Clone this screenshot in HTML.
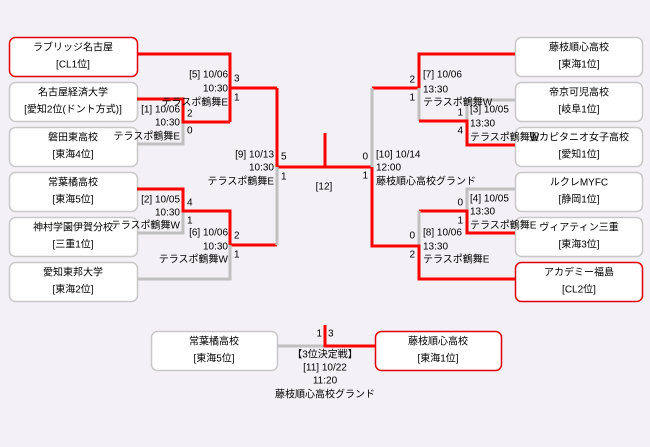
<!DOCTYPE html>
<html><head><meta charset="utf-8"><style>
html,body{margin:0;padding:0;background:#f3f1f5;}
svg{display:block}
text{font-family:"Liberation Sans","Noto Sans CJK JP",sans-serif;font-size:10px;fill:#000;dominant-baseline:central}
.b{fill:#fff;stroke:#c8c8c8;stroke-width:1.5}
.r{fill:#fff;stroke:#e00000;stroke-width:1.5}
.R{stroke:#f00;stroke-width:3;fill:none}
.G{stroke:#c0c0c0;stroke-width:3;fill:none}
.m{text-anchor:middle}
.e{text-anchor:end}
</style></head><body>
<svg width="650" height="447" viewBox="0 0 650 447">
<!-- left boxes -->
<rect class="r" x="9.5" y="37.5" width="128" height="39" rx="6"/>
<rect class="b" x="9.5" y="82.5" width="128" height="39" rx="6"/>
<rect class="b" x="9.5" y="127.5" width="128" height="39" rx="6"/>
<rect class="b" x="9.5" y="172.5" width="128" height="39" rx="6"/>
<rect class="b" x="9.5" y="217.5" width="128" height="39" rx="6"/>
<rect class="b" x="9.5" y="262.5" width="128" height="39" rx="6"/>
<!-- right boxes -->
<rect class="b" x="515.5" y="37.5" width="127" height="39" rx="6"/>
<rect class="b" x="515.5" y="82.5" width="127" height="39" rx="6"/>
<rect class="b" x="515.5" y="127.5" width="127" height="39" rx="6"/>
<rect class="b" x="515.5" y="172.5" width="127" height="39" rx="6"/>
<rect class="b" x="515.5" y="217.5" width="127" height="39" rx="6"/>
<rect class="r" x="515.5" y="262.5" width="127" height="39" rx="6"/>
<!-- bottom boxes -->
<rect class="b" x="151.5" y="331.5" width="126" height="39" rx="6"/>
<rect class="r" x="375.5" y="331.5" width="126" height="39" rx="6"/>

<!-- left lines -->
<path class="G" d="M137,144 H183 V122"/>
<path class="R" d="M137,99 H183 V122 H230"/>
<path class="R" d="M137,54 H230 V88 H277"/>
<path class="R" d="M230,122 V88"/>
<path class="G" d="M137,233 H183 V211"/>
<path class="R" d="M137,189 H183 V211 H230 V245 H277"/>
<path class="G" d="M137,279 H230 V245"/>
<path class="R" d="M277,88 V167 H372"/>
<path class="G" d="M277,245 V167"/>
<path class="R" d="M325,167 V133"/>
<!-- right lines -->
<path class="R" d="M515,54 H419 V88 H372"/>
<path class="G" d="M372,88 V167"/>
<path class="G" d="M419,88 V121"/>
<path class="G" d="M515,100 H467 V121"/>
<path class="R" d="M515,145 H467 V121 H419"/>
<path class="G" d="M515,189 H467 V211"/>
<path class="R" d="M515,233 H467 V211 H419"/>
<path class="G" d="M419,211 V246"/>
<path class="R" d="M515,279 H419 V246 H372 V167"/>
<!-- 3rd place -->
<path class="G" d="M277,346 H325"/>
<path class="R" d="M325,325 V346 H375"/>

<!-- box text -->
<g class="m">
<text class="m" x="73" y="48">ラブリッジ名古屋</text><text class="m" x="73" y="65">[CL1位]</text>
<text class="m" x="73" y="93">名古屋経済大学</text><text class="m" x="73" y="110">[愛知2位(ドント方式)]</text>
<text class="m" x="73" y="138">磐田東高校</text><text class="m" x="73" y="155">[東海4位]</text>
<text class="m" x="73" y="183">常葉橘高校</text><text class="m" x="73" y="200">[東海5位]</text>
<text class="m" x="73" y="228">神村学園伊賀分校</text><text class="m" x="73" y="245">[三重1位]</text>
<text class="m" x="73" y="273">愛知東邦大学</text><text class="m" x="73" y="290">[東海2位]</text>
<text class="m" x="579" y="48">藤枝順心高校</text><text class="m" x="579" y="65">[東海1位]</text>
<text class="m" x="579" y="93">帝京可児高校</text><text class="m" x="579" y="110">[岐阜1位]</text>
<text class="m" x="579" y="138">聖カピタニオ女子高校</text><text class="m" x="579" y="155">[愛知1位]</text>
<text class="m" x="579" y="183">ルクレMYFC</text><text class="m" x="579" y="200">[静岡1位]</text>
<text class="m" x="579" y="228">ヴィアティン三重</text><text class="m" x="579" y="245">[東海3位]</text>
<text class="m" x="579" y="273">アカデミー福島</text><text class="m" x="579" y="290">[CL2位]</text>
<text class="m" x="214" y="342">常葉橘高校</text><text class="m" x="214" y="359">[東海5位]</text>
<text class="m" x="438" y="342">藤枝順心高校</text><text class="m" x="438" y="359">[東海1位]</text>
</g>

<!-- match info left -->
<text class="e" x="228" y="75">[5] 10/06</text><text class="e" x="228" y="89">10:30</text><text class="e" x="228" y="103">テラスポ鶴舞E</text>
<text x="234" y="79">3</text><text x="234" y="98">1</text>
<text class="e" x="180" y="110">[1] 10/06</text><text class="e" x="180" y="123">10:30</text><text class="e" x="180" y="137">テラスポ鶴舞E</text>
<text x="187" y="114">2</text><text x="187" y="131">0</text>
<text class="e" x="274" y="155">[9] 10/13</text><text class="e" x="274" y="168">10:30</text><text class="e" x="274" y="182">テラスポ鶴舞E</text>
<text x="281" y="157">5</text><text x="281" y="177">1</text>
<text class="m" x="324" y="187">[12]</text>
<text class="e" x="180" y="200">[2] 10/05</text><text class="e" x="180" y="213">10:30</text><text class="e" x="180" y="226">テラスポ鶴舞W</text>
<text x="187" y="203">4</text><text x="187" y="221">1</text>
<text class="e" x="228" y="233">[6] 10/06</text><text class="e" x="228" y="247">10:30</text><text class="e" x="228" y="260">テラスポ鶴舞W</text>
<text x="234" y="236">2</text><text x="234" y="255">1</text>
<!-- right -->
<text x="423" y="75">[7] 10/06</text><text x="423" y="90">13:30</text><text x="423" y="103">テラスポ鶴舞W</text>
<text class="e" x="415" y="80">2</text><text class="e" x="415" y="98">1</text>
<text x="470" y="110">[3] 10/05</text><text x="470" y="124">13:30</text><text x="470" y="138">テラスポ鶴舞W</text>
<text class="e" x="463" y="113">1</text><text class="e" x="463" y="131">4</text>
<text x="376" y="155">[10] 10/14</text><text x="376" y="168">12:00</text><text x="376" y="182">藤枝順心高校グランド</text>
<text class="e" x="368" y="157">0</text><text class="e" x="368" y="176">1</text>
<text x="470" y="199">[4] 10/05</text><text x="470" y="212">13:30</text><text x="470" y="226">テラスポ鶴舞E</text>
<text class="e" x="463" y="203">0</text><text class="e" x="463" y="221">1</text>
<text x="423" y="233">[8] 10/06</text><text x="423" y="247">13:30</text><text x="423" y="260">テラスポ鶴舞E</text>
<text class="e" x="415" y="236">0</text><text class="e" x="415" y="255">2</text>
<!-- bottom -->
<text class="e" x="322" y="334">1</text><text x="328" y="334">3</text>
<text class="m" x="325" y="355">【3位決定戦】</text>
<text class="m" x="325" y="368">[11] 10/22</text>
<text class="m" x="325" y="381">11:20</text>
<text class="m" x="325" y="395">藤枝順心高校グランド</text>
</svg>
</body></html>
